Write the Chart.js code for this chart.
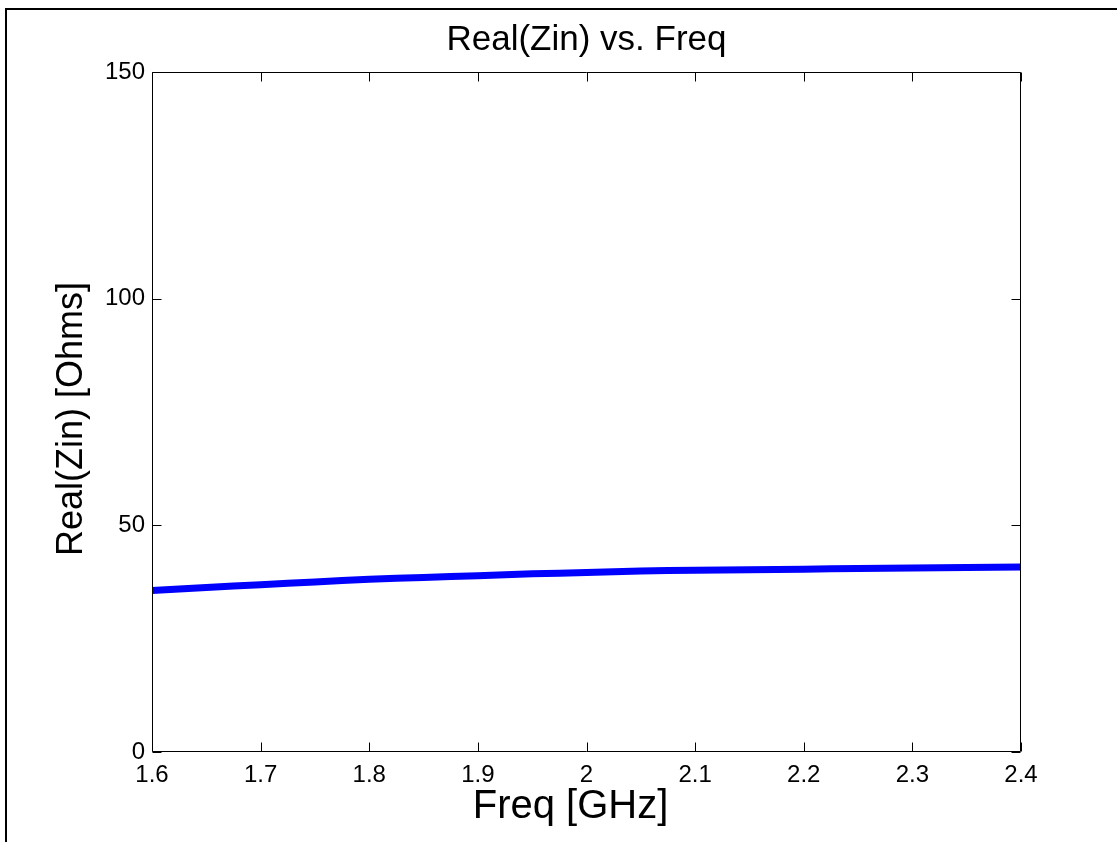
<!DOCTYPE html>
<html>
<head>
<meta charset="utf-8">
<title>Real(Zin) vs. Freq</title>
<script src="https://cdn.jsdelivr.net/npm/chart.js@4/dist/chart.umd.min.js"></script>
<style>
  html, body { margin: 0; padding: 0; background: #ffffff; }
  #wrap { position: relative; width: 1117px; height: 842px; }
  canvas { display: block; }
</style>
</head>
<body>
<div id="wrap"><canvas id="plot" width="1117" height="842"></canvas></div>
<script>
// Input resistance of the antenna across the band
const freqGHz = [1.60, 1.65, 1.70, 1.75, 1.80, 1.85, 1.90, 1.95, 2.00, 2.05, 2.10, 2.15, 2.20, 2.25, 2.30, 2.35, 2.40];
const realZinOhms = [35.6, 36.3, 36.9, 37.5, 38.1, 38.5, 38.9, 39.3, 39.6, 39.9, 40.1, 40.2, 40.3, 40.5, 40.6, 40.7, 40.8];

const xTickValues = [1.6, 1.7, 1.8, 1.9, 2.0, 2.1, 2.2, 2.3, 2.4];
const yTickValues = [0, 50, 100, 150];

const xAxisLabel = 'Freq [GHz]';
const yAxisLabel = 'Real(Zin) [Ohms]';

const FONT = "'Liberation Sans', Arial, Helvetica, sans-serif";
const TICK_LEN = 9;

// Figure frame, axes box, inward tick marks on all four sides and axis labels
const boxPlugin = {
  id: 'boxTicks',
  beforeDraw(chart) {
    const ctx = chart.ctx;
    ctx.save();
    ctx.fillStyle = '#ffffff';
    ctx.fillRect(0, 0, chart.width, chart.height);
    ctx.strokeStyle = '#000000';
    ctx.lineWidth = 2;
    ctx.beginPath();
    ctx.moveTo(6, chart.height);
    ctx.lineTo(6, 9);
    ctx.lineTo(chart.width, 9);
    ctx.stroke();
    ctx.restore();
  },
  afterDatasetsDraw(chart) {
    const ctx = chart.ctx;
    const a = chart.chartArea;
    const xs = chart.scales.x, ys = chart.scales.y;
    const L = Math.round(a.left) + 0.5, R = Math.round(a.right) - 0.5;
    const T = Math.round(a.top) + 0.5, B = Math.round(a.bottom) - 0.5;
    ctx.save();
    ctx.strokeStyle = '#000000';
    ctx.lineWidth = 1;
    ctx.beginPath();
    ctx.rect(L, T, R - L, B - T);
    xs.ticks.forEach(t => {
      const px = Math.round(xs.getPixelForValue(t.value)) + 0.5;
      ctx.moveTo(px, B); ctx.lineTo(px, B - TICK_LEN);
      ctx.moveTo(px, T); ctx.lineTo(px, T + TICK_LEN);
    });
    ys.ticks.forEach(t => {
      const py = Math.round(ys.getPixelForValue(t.value)) + 0.5;
      ctx.moveTo(L, py); ctx.lineTo(L + TICK_LEN, py);
      ctx.moveTo(R, py); ctx.lineTo(R - TICK_LEN, py);
    });
    ctx.stroke();

    // axis labels, set slightly off the axes' centres
    ctx.fillStyle = '#000000';
    ctx.textAlign = 'center';
    ctx.textBaseline = 'middle';
    ctx.font = '40px ' + FONT;
    ctx.fillText(xAxisLabel, (a.left + a.right) / 2 - 16, chart.height - 35);
    ctx.translate(72, (a.top + a.bottom) / 2 + 7);
    ctx.rotate(-Math.PI / 2);
    ctx.font = '36px ' + FONT;
    ctx.fillText(yAxisLabel, 0, 0);
    ctx.restore();
  }
};

new Chart(document.getElementById('plot'), {
  type: 'line',
  data: {
    datasets: [{
      data: freqGHz.map((f, i) => ({ x: f, y: realZinOhms[i] })),
      borderColor: '#0000ff',
      borderWidth: 7,
      pointRadius: 0,
      tension: 0.3,
      fill: false
    }]
  },
  options: {
    responsive: false,
    animation: false,
    devicePixelRatio: 1,
    layout: { padding: { left: 0, right: 96, top: 0, bottom: 0 } },
    plugins: {
      legend: { display: false },
      tooltip: { enabled: false },
      title: {
        display: true,
        fullSize: false,
        text: 'Real(Zin) vs. Freq',
        color: '#000000',
        font: { family: FONT, size: 35, weight: 'normal', lineHeight: 1.2 },
        padding: { top: 19, bottom: 11 }
      }
    },
    scales: {
      x: {
        type: 'linear',
        min: 1.6,
        max: 2.4,
        grid: { display: false, drawTicks: false },
        border: { display: false },
        afterBuildTicks(scale) { scale.ticks = xTickValues.map(v => ({ value: v })); },
        afterFit(scale) { scale.height = 90; },
        ticks: {
          color: '#000000',
          padding: 9,
          maxRotation: 0,
          autoSkip: false,
          font: { family: FONT, size: 24 },
          callback: v => String(parseFloat(Number(v).toFixed(1)))
        },
        title: { display: false }
      },
      y: {
        type: 'linear',
        min: 0,
        max: 150,
        grid: { display: false, drawTicks: false },
        border: { display: false },
        afterBuildTicks(scale) { scale.ticks = yTickValues.map(v => ({ value: v })); },
        afterFit(scale) { scale.width = 152; },
        ticks: {
          color: '#000000',
          padding: 7,
          font: { family: FONT, size: 24 }
        },
        title: { display: false }
      }
    }
  },
  plugins: [boxPlugin]
});
</script>
</body>
</html>
